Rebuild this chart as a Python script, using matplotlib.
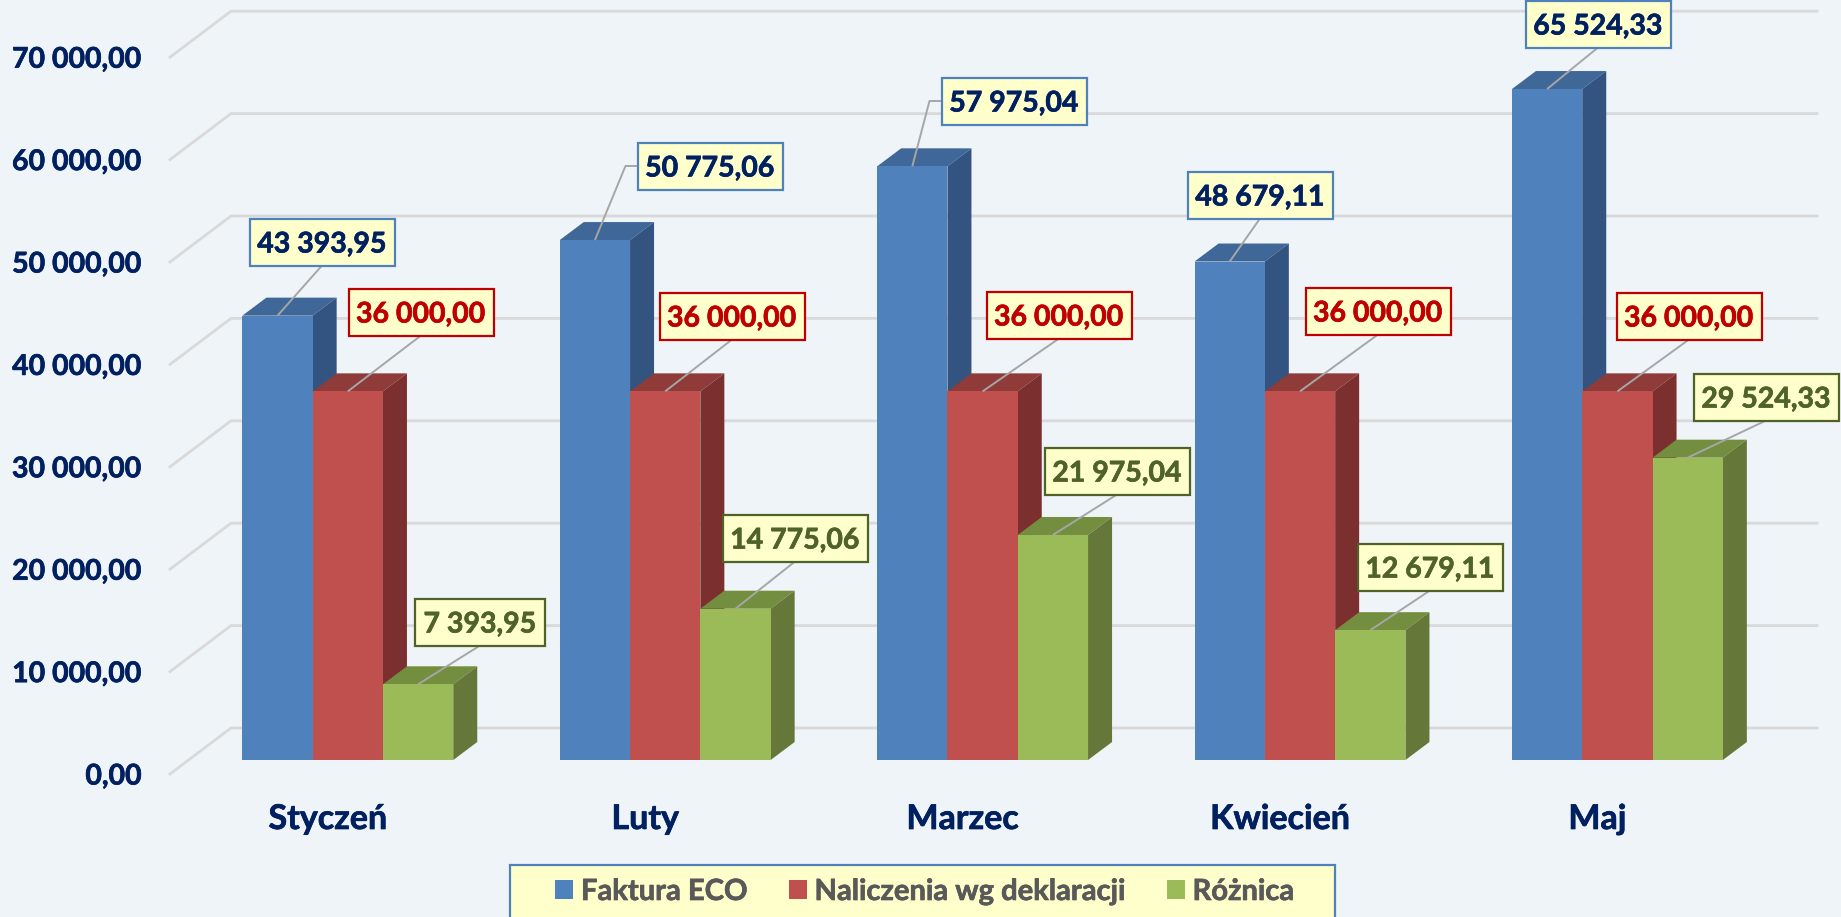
import matplotlib
matplotlib.use("Agg")
import matplotlib.pyplot as plt
import matplotlib.patheffects as pe
from matplotlib.patches import Rectangle
from matplotlib.transforms import Affine2D

# dane
months = ["Styczeń", "Luty", "Marzec", "Kwiecień", "Maj"]
faktura = [43393.95, 50775.06, 57975.04, 48679.11, 65524.33]
naliczenia = [36000.00, 36000.00, 36000.00, 36000.00, 36000.00]
roznica = [7393.95, 14775.06, 21975.04, 12679.11, 29524.33]
ticks = [0, 10000, 20000, 30000, 40000, 50000, 60000, 70000]

W, H = 1841, 917
plt.rcParams['font.family'] = ['Lato', 'DejaVu Sans']

# skala: piksele na jednostke
px_x = 317.4
px_y = 0.01024
x0 = 347.8
y0 = 760
bar_w = 70.3 / px_x
dx = 24 / px_x
dy = 18 / px_y

fig = plt.figure(figsize=(W / 100, H / 100), dpi=100, facecolor="#EFF4F9")
ax = fig.add_axes([0, 0, 1, 1], facecolor="#EFF4F9")
ax.set_xlim(-x0 / px_x, (W - x0) / px_x)
ax.set_ylim(-(H - y0) / px_y, y0 / px_y)
for s in ax.spines.values():
    s.set_visible(False)

# pogrubienie tekstu (Calibri Bold jest ciezszy niz Lato Bold)
def thicken(t, c, w=0.5):
    t.set_path_effects([pe.withStroke(linewidth=w, foreground=c)])

# siatka: tylna sciana i ukosne linie
grid_c = "#D9D9D9"
wall_front_x, wall_back_x, wall_end_x = (170 - x0) / px_x, (231 - x0) / px_x, (1817 - x0) / px_x
wall_front_y, wall_back_y = -14 / px_y, 32 / px_y
for t in ticks:
    ax.plot([wall_front_x, wall_back_x, wall_end_x],
            [t + wall_front_y, t + wall_back_y, t + wall_back_y],
            color=grid_c, lw=2, zorder=1, solid_joinstyle="miter")

# osie jako prawdziwe ticki
ax.set_yticks([t + wall_front_y for t in ticks],
              [f"{t // 1000} 000,00" if t else "0,00" for t in ticks])
ax.set_xticks([i - 20 / px_x for i in range(len(months))], months)
ax.tick_params(axis="y", length=0, pad=-142 * 0.72, labelsize=20.5, labelcolor="#002060")
ax.tick_params(axis="x", length=0, pad=-(H - 803) * 0.72, labelsize=24.5, labelcolor="#002060")
for lab in ax.get_xticklabels() + ax.get_yticklabels():
    lab.set_fontweight("bold")
    thicken(lab, "#002060")

series = [
    ("Faktura ECO", faktura, "#4F81BD", "#3F6797", "#335480", "#002060", "#4F81BD", -1),
    ("Naliczenia wg deklaracji", naliczenia, "#C0504D", "#8E3B39", "#7B2F2E", "#C00000", "#C00000", 0),
    ("Różnica", roznica, "#9BBB59", "#748E40", "#65783A", "#4F6228", "#4F6228", 1),
]

# polozenie etykiet w pikselach obrazu (srodek ramki)
label_pos = [
    [(322, 242), (710, 166), (1014, 101), (1260, 195), (1598, 24)],
    [(421, 312), (732, 316), (1059, 315), (1378, 311), (1689, 316)],
    [(480, 622), (795, 538), (1117, 471), (1430, 567), (1766, 397)],
]
box_h = 47
img = Affine2D().scale(1, -1).translate(0, H)

handles = []
for k, (name, vals, c_front, c_top, c_side, c_txt, c_edge, off) in enumerate(series):
    left = [i + off * bar_w - bar_w / 2 for i in range(len(vals))]
    # rysowanie od tylu: kazda seria przykrywa poprzednia
    z = 3 + k
    bars = ax.bar(left, vals, width=bar_w, align="edge", color=c_front, zorder=z + 0.2, label=name)
    handles.append(bars)
    for l, v in zip(left, vals):
        r = l + bar_w
        ax.fill([l, r, r + dx, l + dx], [v, v, v + dy, v + dy], color=c_top, lw=0, zorder=z)
        ax.fill([r, r + dx, r + dx, r], [0, dy, v + dy, v], color=c_side, lw=0, zorder=z)

    for i, (v, (cx, cy)) in enumerate(zip(vals, label_pos[k])):
        box_w = 130 if v < 10000 else 145
        px0 = x0 + (left[i] + bar_w / 2) * px_x
        py0 = y0 - v * px_y
        # linia odniesienia: z lamaniem gdy ramka stoi z boku
        if k == 0 and cx - box_w / 2 > px0 + 20:
            xs = [px0, cx - box_w / 2 - 12, cx - box_w / 2]
            ys = [py0, cy, cy]
        else:
            xs = [px0, cx]
            ys = [py0, cy + box_h / 2]
        ax.plot(xs, ys, color="#A6A6A6", lw=1.4, transform=img, zorder=10, solid_capstyle="butt")
        ax.add_patch(Rectangle((cx - box_w / 2, cy - box_h / 2), box_w, box_h, transform=img,
                               fc="#FFFFCC", ec=c_edge, lw=1.6, zorder=11, clip_on=False))
        txt = f"{v:,.2f}".replace(",", " ").replace(".", ",")
        lab = ax.text(cx, cy, txt, transform=img, ha="center", va="center_baseline", color=c_txt,
                      fontsize=20.5, fontweight="bold", zorder=12)
        thicken(lab, c_txt)

# legenda: ramka siega poza dolna krawedz obrazu
ax.add_patch(Rectangle((510, 865), 825, 70, transform=img, fc="#FFFFCC", ec="#4F81BD",
                       lw=1.6, zorder=19, clip_on=True))
leg = ax.legend(handles=handles, ncol=3, loc="center left",
                bbox_to_anchor=(555 / W, 1 - 892 / H), frameon=False,
                prop={"size": 21, "weight": "bold"}, labelcolor="#595959",
                handlelength=0.62, handleheight=0.62, handletextpad=0.27,
                columnspacing=1.4, borderpad=0, borderaxespad=0)
leg.set_zorder(20)
for t in leg.get_texts():
    thicken(t, "#595959")

fig.savefig("out.png", dpi=100, facecolor=fig.get_facecolor())
